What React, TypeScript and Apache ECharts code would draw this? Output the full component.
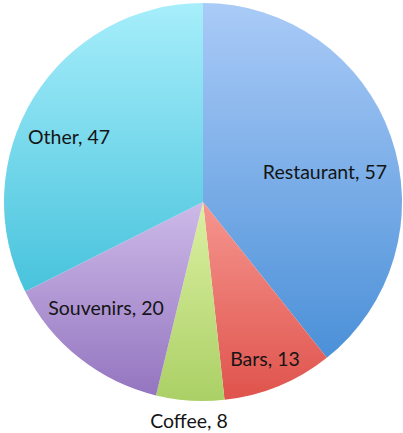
import React, { useEffect, useRef } from "react";
import * as echarts from "echarts";

const categories = ["Restaurant", "Bars", "Coffee", "Souvenirs", "Other"];
const values = [57, 13, 8, 20, 47];
const topColors = ["#aacbf7", "#f5968f", "#dcf0a2", "#cdbae8", "#a7eefb"];
const bottomColors = ["#4b90d8", "#df534c", "#abd066", "#9475c0", "#48c3dc"];
const labelPositions: [number, number][] = [
  [325, 171],
  [265, 358],
  [189, 420],
  [106, 307],
  [69, 136],
];

export default function App() {
  const ref = useRef<HTMLDivElement>(null);
  useEffect(() => {
    if (!ref.current) return;
    const chart = echarts.init(ref.current, undefined, { renderer: "svg" });
    const data = categories.map((name, i) => ({
      name,
      value: values[i],
      itemStyle: {
        color: new echarts.graphic.LinearGradient(0, 0, 0, 1, [
          { offset: 0, color: topColors[i] },
          { offset: 1, color: bottomColors[i] },
        ]),
      },
    }));
    chart.setOption({
      animation: false,
      backgroundColor: "#ffffff",
      series: [
        {
          type: "pie",
          center: [203, 202],
          radius: 199,
          startAngle: 90,
          clockwise: true,
          data,
          label: {
            show: true,
            position: "inside",
            formatter: "{b}, {c}",
            color: "#151515",
            fontFamily: "Lato",
            fontSize: 19.5,
          },
          labelLine: { show: false },
          labelLayout: (params: any) => {
            const p = labelPositions[params.dataIndex];
            return { x: p[0], y: p[1], align: "center", verticalAlign: "middle" };
          },
          emphasis: { disabled: true },
        },
      ],
    });
    return () => chart.dispose();
  }, []);
  return (
    <div
      ref={ref}
      style={{ position: "fixed", left: 0, top: 0, width: 403, height: 433 }}
    />
  );
}
